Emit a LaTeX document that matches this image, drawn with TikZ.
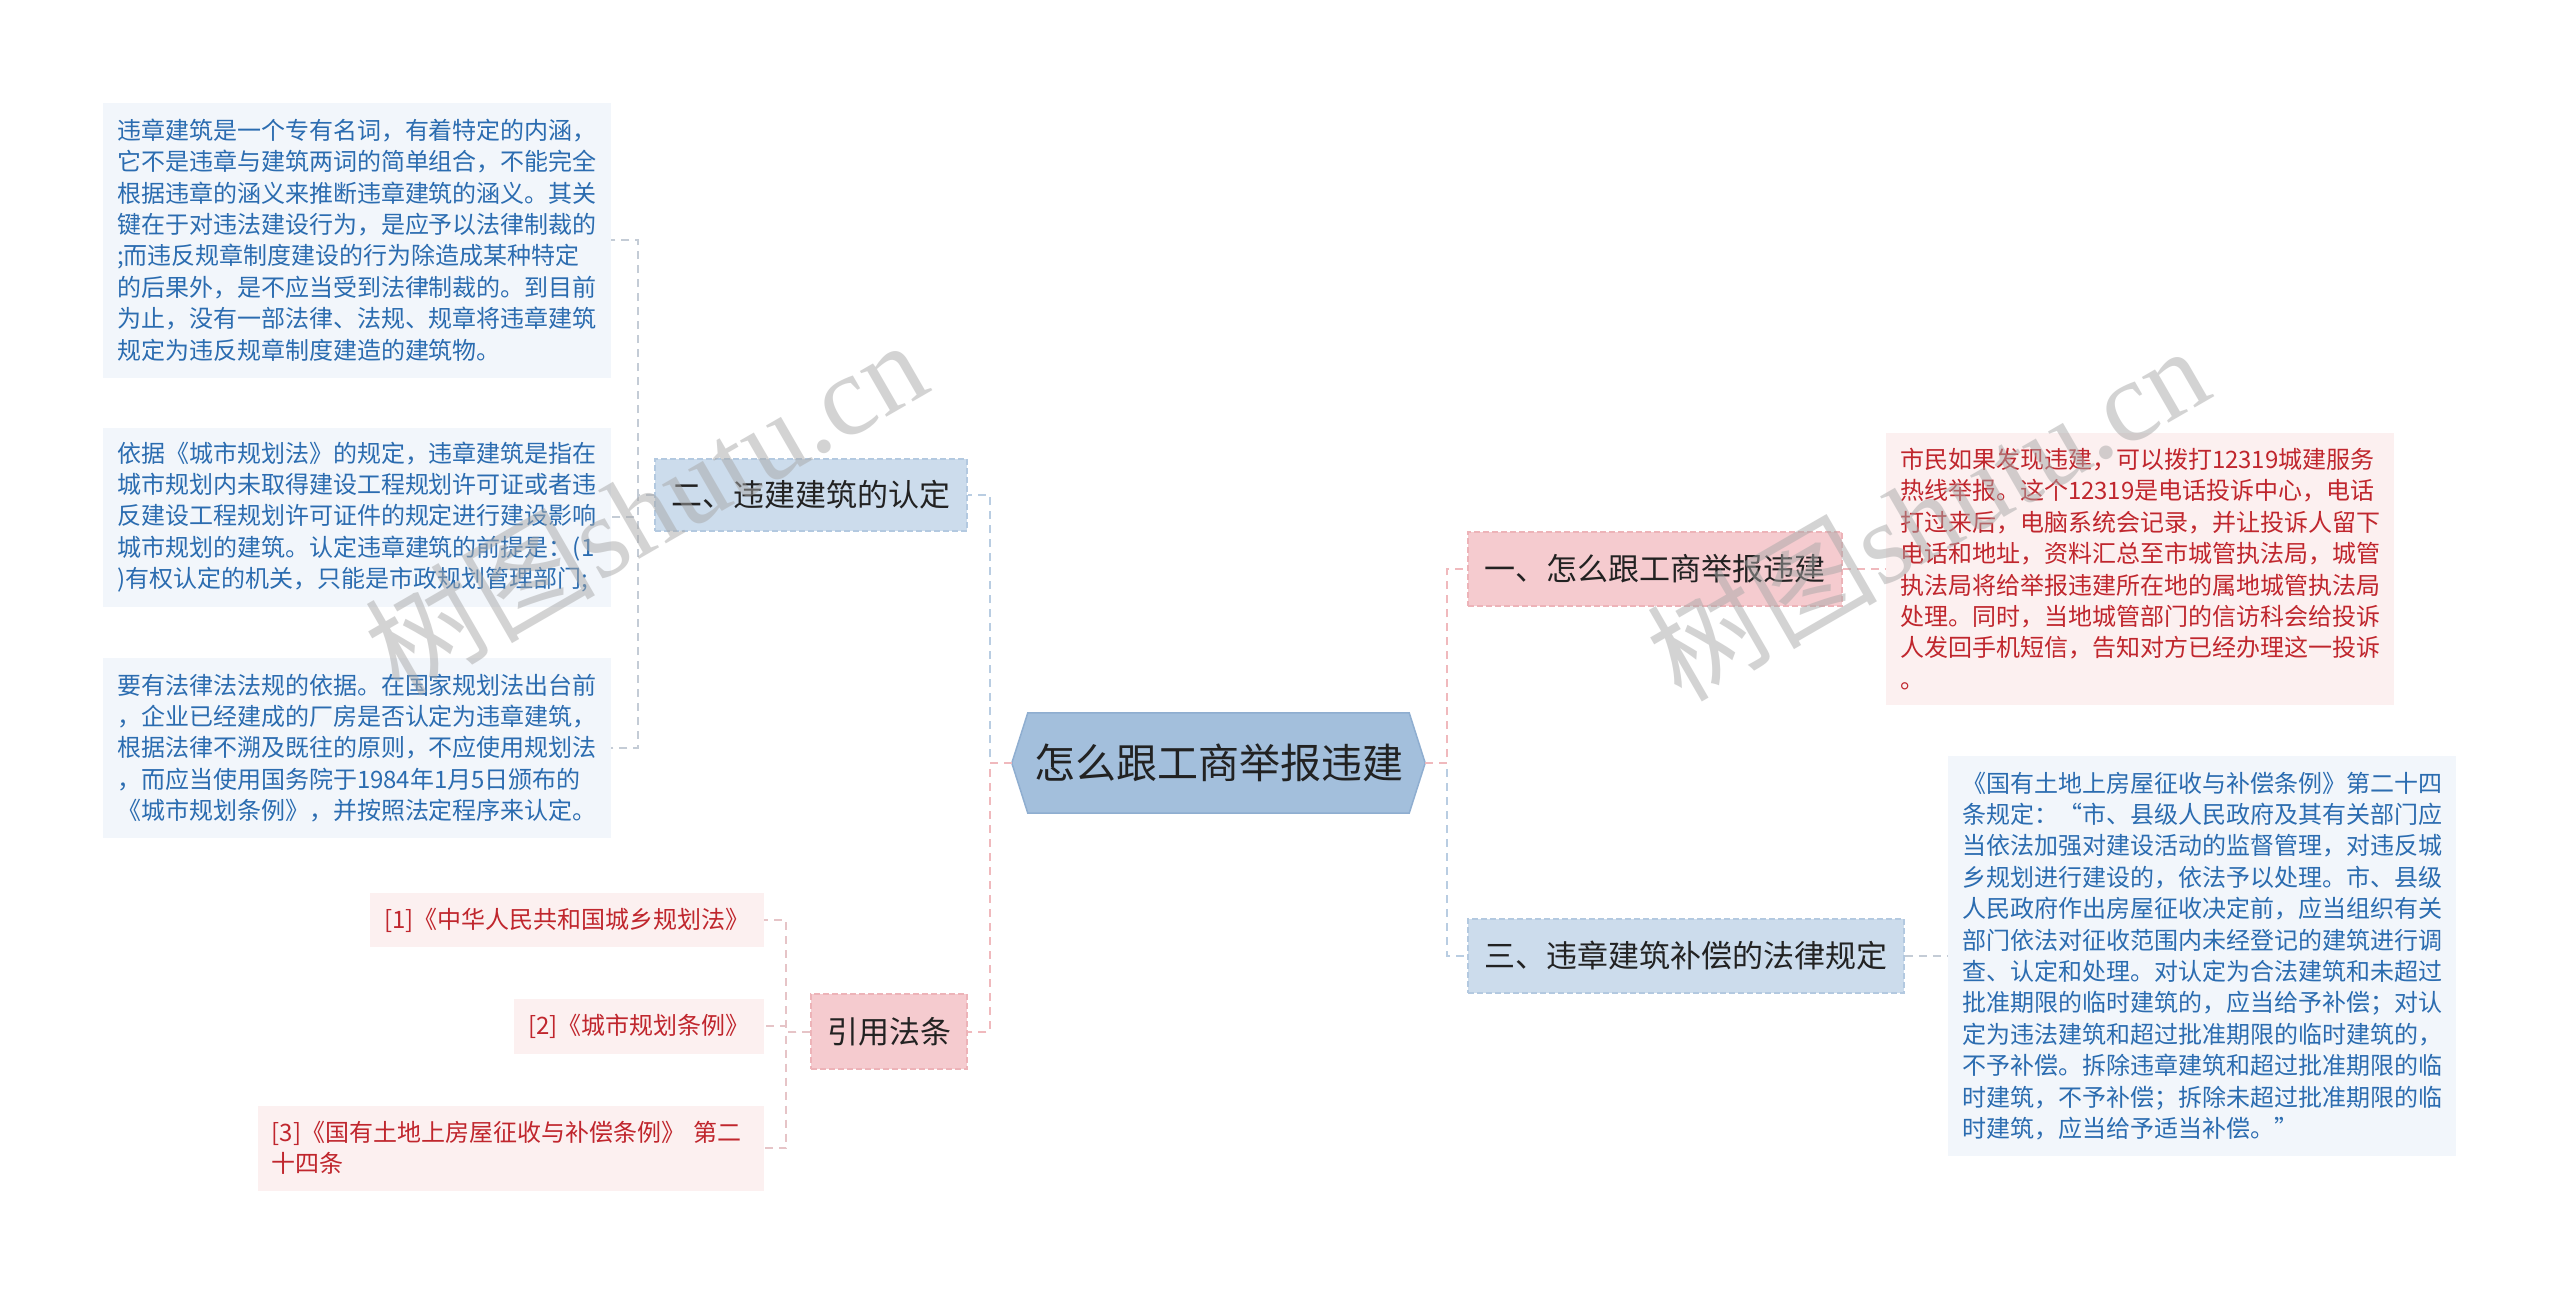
\documentclass[tikz,border=0pt]{standalone}
\usepackage{fontspec}
\setmainfont{Noto Sans CJK SC}
\newfontfamily\wmlatin{Liberation Serif}
\usetikzlibrary{backgrounds}
\definecolor{textblue}{HTML}{2B6CB0}
\definecolor{textred}{HTML}{C0262D}
\definecolor{textdark}{HTML}{222222}
\definecolor{lboxfill}{HTML}{F2F6FB}
\definecolor{rboxfill}{HTML}{FCF0F0}
\definecolor{catblue}{HTML}{CCDCEC}
\definecolor{catblueline}{HTML}{B3C9E0}
\definecolor{catpink}{HTML}{F5CBCF}
\definecolor{catpinkline}{HTML}{EDB3B8}
\definecolor{hexfill}{HTML}{A3BFDC}
\definecolor{hexline}{HTML}{8FAED0}
\definecolor{linkblue}{HTML}{B9CDE2}
\definecolor{linkpink}{HTML}{F0B9BD}
\definecolor{linkgray}{HTML}{C4CCD6}
\definecolor{linkrose}{HTML}{E6C4C7}
\definecolor{wmgray}{HTML}{A8A8A8}
\begin{document}
\begin{tikzpicture}[x=1pt,y=-1pt,
  txtbox/.style={inner xsep=14pt, inner ysep=0pt, text width=480pt, align=left,
    font=\fontsize{24}{31.4}\selectfont, anchor=center},
  lbox/.style={txtbox, fill=lboxfill, text=textblue},
  rbox/.style={txtbox, fill=rboxfill, text=textred},
  refbox/.style={inner xsep=14pt, inner ysep=0pt, fill=rboxfill, text=textred,
    font=\fontsize{24}{31.4}\selectfont, anchor=east},
  catnode/.style={inner sep=0pt, font=\fontsize{31}{36}\selectfont, text=textdark,
    line width=1.5pt, dash pattern=on 6pt off 3pt, anchor=center},
  catb/.style={catnode, fill=catblue, draw=catblueline},
  catp/.style={catnode, fill=catpink, draw=catpinkline},
  link/.style={line width=2pt, dash pattern=on 8pt off 6pt},
  wm/.style={text=wmgray, opacity=0.5, rotate=30, font=\fontsize{115}{120}\selectfont}
]
\begin{scope}[on background layer]
\fill[white] (0,0) rectangle (2560,1294);
\end{scope}
\useasboundingbox (0,0) rectangle (2560,1294);

% root
\node[inner sep=0pt, minimum width=413pt, minimum height=100pt, text=textdark,
  font=\fontsize{41}{46}\selectfont] (root) at (1218.5,763) {怎么跟工商举报违建};
\begin{scope}[on background layer]
\filldraw[fill=hexfill, draw=hexline, line width=1.5pt]
  ([xshift=16pt]root.north west) -- ([xshift=-16pt]root.north east) -- (root.east)
  -- ([xshift=-16pt]root.south east) -- ([xshift=16pt]root.south west) -- (root.west) -- cycle;
\end{scope}

% category nodes
\node[catb, minimum width=312pt, minimum height=72pt] (n2) at (811,495) {二、违建建筑的认定};
\node[catp, minimum width=156pt, minimum height=75pt] (ny) at (889,1031.5) {引用法条};
\node[catp, minimum width=374pt, minimum height=74pt] (n1) at (1655,569) {一、怎么跟工商举报违建};
\node[catb, minimum width=436pt, minimum height=74pt] (n3) at (1686,956) {三、违章建筑补偿的法律规定};

% left text boxes
\node[lbox, minimum height=275pt] (l1) at (357,240) {违章建筑是一个专有名词，有着特定的内涵，\\
它不是违章与建筑两词的简单组合，不能完全\\
根据违章的涵义来推断违章建筑的涵义。其关\\
键在于对违法建设行为，是应予以法律制裁的\\
;而违反规章制度建设的行为除造成某种特定\\
的后果外，是不应当受到法律制裁的。到目前\\
为止，没有一部法律、法规、规章将违章建筑\\
规定为违反规章制度建造的建筑物。};
\node[lbox, minimum height=179pt] (l2) at (357,517) {依据《城市规划法》的规定，违章建筑是指在\\
城市规划内未取得建设工程规划许可证或者违\\
反建设工程规划许可证件的规定进行建设影响\\
城市规划的建筑。认定违章建筑的前提是：(1\\
)有权认定的机关，只能是市政规划管理部门;};
\node[lbox, minimum height=180pt] (l3) at (357,748) {要有法律法法规的依据。在国家规划法出台前\\
，企业已经建成的厂房是否认定为违章建筑，\\
根据法律不溯及既往的原则，不应使用规划法\\
，而应当使用国务院于1984年1月5日颁布的\\
《城市规划条例》，并按照法定程序来认定。};

% reference boxes
\node[refbox, minimum width=392pt, minimum height=54pt] (f1) at (764,920) {[1]《中华人民共和国城乡规划法》};
\node[refbox, minimum width=246pt, minimum height=55pt] (f2) at (764,1026) {[2]《城市规划条例》};
\node[refbox, text width=478pt, align=left, minimum height=85pt] (f3) at (764,1148) {[3]《国有土地上房屋征收与补偿条例》 第二\\十四条};

% right text boxes
\node[rbox, minimum height=272pt] (r1) at (2140,569) {市民如果发现违建，可以拨打12319城建服务\\
热线举报。这个12319是电话投诉中心，电话\\
打过来后，电脑系统会记录，并让投诉人留下\\
电话和地址，资料汇总至市城管执法局，城管\\
执法局将给举报违建所在地的属地城管执法局\\
处理。同时，当地城管部门的信访科会给投诉\\
人发回手机短信，告知对方已经办理这一投诉\\
。};
\node[lbox, minimum height=400pt] (r2) at (2202,956) {《国有土地上房屋征收与补偿条例》第二十四\\
条规定：“市、县级人民政府及其有关部门应\\
当依法加强对建设活动的监督管理，对违反城\\
乡规划进行建设的，依法予以处理。市、县级\\
人民政府作出房屋征收决定前，应当组织有关\\
部门依法对征收范围内未经登记的建筑进行调\\
查、认定和处理。对认定为合法建筑和未超过\\
批准期限的临时建筑的，应当给予补偿；对认\\
定为违法建筑和超过批准期限的临时建筑的，\\
不予补偿。拆除违章建筑和超过批准期限的临\\
时建筑，不予补偿；拆除未超过批准期限的临\\
时建筑，应当给予适当补偿。”};

% connectors
\draw[link, linkblue] (root.west) -- ++(-22,0) |- (n2.east);
\draw[link, linkpink] (root.west) -- ++(-22,0) |- (ny.east);
\draw[link, linkblue] (root.east) -- ++(22,0) |- (n3.west);
\draw[link, linkpink] (root.east) -- ++(22,0) |- (n1.west);
\draw[link, linkpink] (n1.east) -- (r1.west);
\draw[link, linkgray] (n3.east) -- (r2.west);
\draw[link, linkgray] (n2.west) -- ++(-16,0) |- (l1.east);
\draw[link, linkgray] (n2.west) -- ++(-16,0) |- (l2.east);
\draw[link, linkgray] (n2.west) -- ++(-16,0) |- (l3.east);
\draw[link, linkrose] (ny.west) -- ++(-24,0) |- (f1.east);
\draw[link, linkrose] (ny.west) -- ++(-24,0) |- (f2.east);
\draw[link, linkrose] (ny.west) -- ++(-24,0) |- (f3.east);

% watermarks
\node[wm] (wm1) at (645,506) {树图{\wmlatin shutu.cn}};
\node[wm] (wm2) at (1927,512) {树图{\wmlatin shutu.cn}};
\end{tikzpicture}
\end{document}
